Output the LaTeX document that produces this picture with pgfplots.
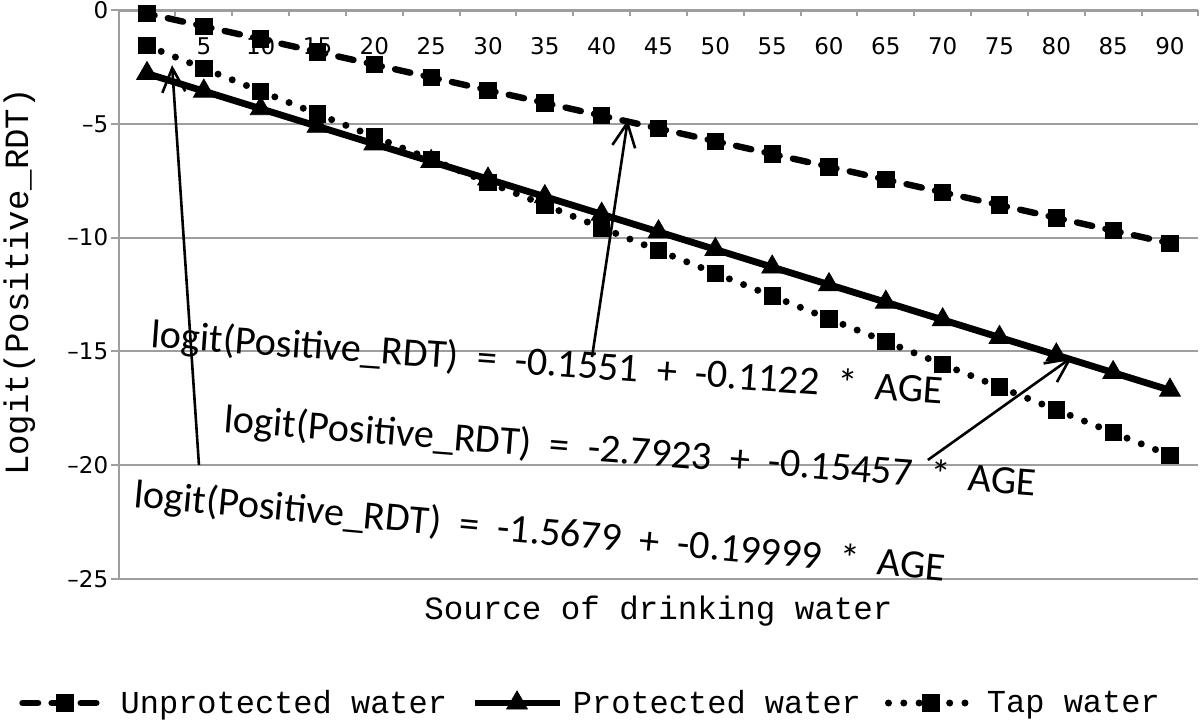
\documentclass[border=0pt]{standalone}
\usepackage{pgfplots}
\pgfplotsset{compat=1.18}
\usetikzlibrary{arrows.meta}
\usepackage{fontspec}
\setmainfont{Liberation Serif}
\setmonofont{Liberation Mono}
\newfontfamily\dejavu{DejaVu Sans}
\newfontfamily\calibri{Carlito}
\definecolor{gridgray}{RGB}{158,158,158}
\pgfplotstableread{
x y
0 -0.155
5 -0.716
10 -1.277
15 -1.838
20 -2.399
25 -2.960
30 -3.521
35 -4.082
40 -4.643
45 -5.204
50 -5.765
55 -6.326
60 -6.887
65 -7.448
70 -8.009
75 -8.570
80 -9.131
85 -9.692
90 -10.253
}\unprotected
\pgfplotstableread{
x y
0 -2.792
5 -3.565
10 -4.338
15 -5.111
20 -5.884
25 -6.657
30 -7.429
35 -8.202
40 -8.975
45 -9.748
50 -10.521
55 -11.294
60 -12.067
65 -12.839
70 -13.612
75 -14.385
80 -15.158
85 -15.931
90 -16.704
}\protectedw
\pgfplotstableread{
x y
0 -1.568
5 -2.568
10 -3.568
15 -4.568
20 -5.568
25 -6.568
30 -7.568
35 -8.568
40 -9.568
45 -10.567
50 -11.567
55 -12.567
60 -13.567
65 -14.567
70 -15.567
75 -16.567
80 -17.567
85 -18.567
90 -19.567
}\tapw
\begin{document}
\begin{tikzpicture}
\begin{axis}[
  scale only axis,
  width=539.9pt, height=284.5pt,
  xmin=-2.5, xmax=92.5, ymin=-25, ymax=0,
  clip=false,
  axis x line*=top,
  axis y line*=left,
  axis line style={gridgray, line width=1pt},
  x axis line style={line width=1.5pt},
  xtick={5,10,...,90},
  xticklabels={5,10,15,20,25,30,35,40,45,50,55,60,65,70,75,80,85,90},
  minor xtick={-2.5,2.5,...,92.5},
  ytick={-25,-20,...,0},
  yticklabels={\textendash25,\textendash20,\textendash15,\textendash10,\textendash5,0},
  xtick align=inside,
  ytick align=outside,
  major tick length=4pt,
  minor tick length=3pt,
  major x tick style={draw=none},
  minor x tick style={gridgray, line width=1pt},
  major y tick style={gridgray, line width=1pt},
  ymajorgrids,
  major grid style={gridgray, line width=1pt},
  xticklabel style={font=\fontsize{11.5}{13}\selectfont\dejavu, anchor=north, inner sep=0pt, yshift=-13.5pt},
  yticklabel style={font=\fontsize{11.5}{13}\selectfont\dejavu, anchor=east, inner sep=0pt, xshift=-1pt},
  xlabel={Source of drinking water},
  xlabel style={font=\fontsize{16.25}{19}\selectfont\ttfamily, at={(axis description cs:0.5,0)}, anchor=base, yshift=-20pt, inner sep=0pt},
  ylabel={Logit(Positive\_RDT)},
  ylabel style={font=\fontsize{17}{19}\selectfont\ttfamily, at={(axis description cs:-0.0839,0.522)}, anchor=base, inner sep=0pt},
  legend columns=3,
  legend style={at={(axis description cs:0.438,0)}, anchor=center, yshift=-62pt, draw=none, fill=none, inner sep=0pt,
    font=\fontsize{16}{19}\selectfont\ttfamily,
    /tikz/every odd column/.append style={column sep=3pt},
    /tikz/every even column/.append style={column sep=10pt}},
  legend cell align=left,
  legend image code/.code={\draw[mark repeat=2,mark phase=2,#1, dash phase=0pt] plot coordinates {(0pt,0pt) (21.25pt,0pt) (42.5pt,0pt)};},
]
\addplot[black, line width=3.2pt, line cap=round, dash pattern=on 7.8pt off 6.76pt, dash phase=3.9pt,
  mark=square*, mark size=4.1pt, mark options={solid, line width=0.4pt}] table[x=x,y=y] {\unprotected};
\addlegendentry{Unprotected water}
\addplot[black, solid, line width=3.4pt, mark=triangle*, mark size=6pt, mark options={solid, line width=0.4pt}] table[x=x,y=y] {\protectedw};
\addlegendentry{Protected water}
\addplot[black, line width=3.5pt, line cap=round, dash pattern=on 0pt off 7.65pt,
  mark=square*, mark size=4.1pt, mark options={solid, line width=0.4pt}] table[x=x,y=y] {\tapw};
\addlegendentry{Tap water}

\node[font=\fontsize{20.1}{22}\selectfont\calibri, anchor=base west, inner sep=0pt, rotate=-4.1] at (axis cs:0.26,-14.81) {logit(Positive\_RDT)~~=~~-0.1551~~+~~-0.1122~~*~~AGE};
\node[font=\fontsize{20.1}{22}\selectfont\calibri, anchor=base west, inner sep=0pt, rotate=-4.5] at (axis cs:6.69,-18.54) {logit(Positive\_RDT)~~=~~-2.7923~~+~~-0.15457~~*~~AGE};
\node[font=\fontsize{20.1}{22}\selectfont\calibri, anchor=base west, inner sep=0pt, rotate=-5.2] at (axis cs:-1.23,-21.84) {logit(Positive\_RDT)~~=~~-1.5679~~+~~-0.19999~~*~~AGE};

\draw[black, line width=1.3pt, -{Straight Barb[length=12pt,width=11.5pt]}] (axis cs:4.57,-19.99) -- (axis cs:2.2,-2.42);
\draw[black, line width=1.3pt, -{Straight Barb[length=12pt,width=11.5pt]}] (axis cs:39.15,-15.25) -- (axis cs:42.3,-4.83);
\draw[black, line width=1.3pt, -{Straight Barb[length=12pt,width=11.5pt]}] (axis cs:68.7,-19.77) -- (axis cs:81.4,-15.25);
\end{axis}
\pgfresetboundingbox
\path[use as bounding box] (-59.3pt,-72pt) rectangle (540.7pt,289.5pt);
\end{tikzpicture}
\end{document}
